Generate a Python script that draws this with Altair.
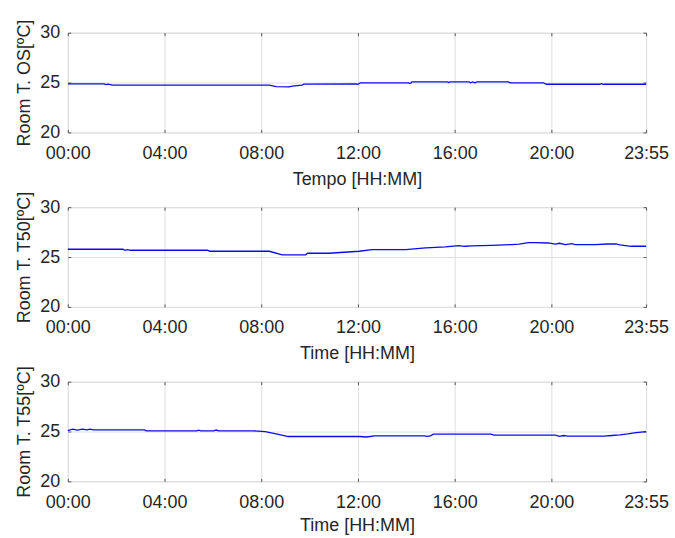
import altair as alt
import pandas as pd

# ---------------- data ----------------
os_time = ["00:00", "01:30", "01:34", "01:40", "01:51", "08:20", "08:37", "09:09",
           "09:17", "09:41", "09:46", "11:56", "11:58", "12:02", "12:06", "14:06",
           "14:08", "14:12", "14:14", "15:42", "15:45", "15:48", "16:36", "16:39",
           "16:45", "16:50", "16:55", "17:00", "18:13", "18:18", "19:40", "19:48",
           "22:00", "22:04", "22:08", "23:55"]
os_val = [24.87, 24.87, 24.80, 24.85, 24.75, 24.75, 24.60, 24.57,
          24.65, 24.75, 24.85, 24.87, 24.82, 24.87, 24.97, 24.97,
          24.90, 24.97, 25.07, 25.07, 25.00, 25.07, 25.07, 24.97,
          25.07, 24.97, 25.07, 25.07, 25.07, 24.97, 24.97, 24.83,
          24.83, 24.88, 24.83, 24.83]

t50_time = ["00:00", "02:17", "02:22", "02:28", "02:35", "02:42", "05:47", "05:52",
            "08:20", "08:52", "09:50", "09:55", "10:48", "12:03", "12:35", "13:58",
            "14:48", "15:37", "16:10", "16:25", "16:42", "17:32", "18:22", "18:40",
            "19:03", "19:20", "19:52", "20:10", "20:20", "20:35", "20:50", "21:00",
            "21:48", "22:20", "22:40", "22:50", "23:18", "23:55"]
t50_val = [25.78, 25.78, 25.68, 25.75, 25.68, 25.68, 25.68, 25.58,
           25.58, 25.22, 25.22, 25.38, 25.38, 25.58, 25.75, 25.75,
           25.91, 26.01, 26.15, 26.08, 26.12, 26.18, 26.25, 26.30,
           26.45, 26.45, 26.41, 26.30, 26.38, 26.25, 26.35, 26.25,
           26.25, 26.31, 26.31, 26.22, 26.08, 26.08]

t55_time = ["00:00", "00:12", "00:24", "00:36", "00:48", "00:55", "01:04", "03:10",
            "03:15", "05:20", "05:25", "05:30", "06:02", "06:08", "06:15", "07:40",
            "08:10", "08:40", "09:07", "12:05", "12:20", "12:30", "12:40", "14:45",
            "14:52", "15:00", "15:07", "17:30", "17:38", "20:10", "20:20", "20:30",
            "20:40", "22:10", "22:30", "22:50", "23:10", "23:30", "23:55"]
t55_val = [25.10, 25.23, 25.15, 25.23, 25.17, 25.23, 25.17, 25.17,
           25.07, 25.07, 25.13, 25.07, 25.07, 25.15, 25.07, 25.07,
           25.00, 24.75, 24.50, 24.50, 24.45, 24.50, 24.57, 24.57,
           24.52, 24.57, 24.73, 24.73, 24.63, 24.63, 24.52, 24.60,
           24.53, 24.53, 24.60, 24.67, 24.77, 24.90, 25.00]

x_ticks = [0, 240, 480, 720, 960, 1200, 1435]
y_ticks = [20, 25, 30]

panels = [
    (os_time, os_val, "Room T. OS[ºC]", "Tempo [HH:MM]", 8),
    (t50_time, t50_val, "Room T. T50[ºC]", "Time [HH:MM]", 8),
    (t55_time, t55_val, "Room T. T55[ºC]", "Time [HH:MM]", 5),
]

def to_min(s):
    h, m = s.split(":")
    return int(h) * 60 + int(m)

label_expr = ("(floor(datum.value/60) < 10 ? '0' : '') + floor(datum.value/60) + ':' + "
              "(datum.value % 60 < 10 ? '0' : '') + (datum.value % 60)")

FONT = "Liberation Sans"
TXT = "#262626"
GRID = "#dedede"
TICK = "#555555"

charts = []
for times, vals, ytitle, xtitle, tpad in panels:
    df = pd.DataFrame({"t": [to_min(s) for s in times], "v": vals})
    xs = alt.Scale(domain=[0, 1435], nice=False, zero=False)
    ys = alt.Scale(domain=[20, 30], nice=False, zero=False)
    main = alt.Chart(df).mark_line(color="#0a0af0", strokeWidth=1.3, interpolate="linear").encode(
        x=alt.X("t:Q", scale=xs, title=xtitle,
                axis=alt.Axis(values=x_ticks, labelExpr=label_expr, labelFlush=False,
                              grid=True, gridColor=GRID, domain=False,
                              ticks=True, tickSize=3, tickColor=TICK, offset=-3,
                              labelPadding=12, labelFontSize=18, titleFontSize=18,
                              labelColor=TXT, titleColor=TXT, labelFont=FONT, titleFont=FONT,
                              titleFontWeight="normal", titlePadding=tpad)),
        y=alt.Y("v:Q", scale=ys, title=ytitle,
                axis=alt.Axis(values=y_ticks, grid=True, gridColor=GRID, domain=False,
                              ticks=True, tickSize=3, tickColor=TICK, offset=-3,
                              labelPadding=8, labelFontSize=18, titleFontSize=18,
                              labelColor=TXT, titleColor=TXT, labelFont=FONT, titleFont=FONT,
                              titleFontWeight="normal", titlePadding=6, labelBaseline="middle")),
    )
    dup = alt.Chart(df).mark_line(opacity=0).encode(
        x=alt.X("t:Q", scale=xs,
                axis=alt.Axis(orient="top", values=x_ticks, labels=False, title=None, grid=False,
                              domain=False, tickSize=3, tickColor=TICK, offset=-3)),
        y=alt.Y("v:Q", scale=ys,
                axis=alt.Axis(orient="right", values=y_ticks, labels=False, title=None, grid=False,
                              domain=False, tickSize=3, tickColor=TICK, offset=-3)),
    )
    layered = alt.layer(main, dup).resolve_axis(x="independent", y="independent").properties(
        width=580, height=100)
    charts.append(layered)

chart = alt.vconcat(*charts, spacing=75, bounds="flush").configure_view(
    stroke="#4d4d4d", strokeWidth=1
).configure(background="white", padding={"left": 15, "top": 17, "right": 5, "bottom": 5})

chart.save("out.html", embed_options={"renderer": "svg", "actions": False})
